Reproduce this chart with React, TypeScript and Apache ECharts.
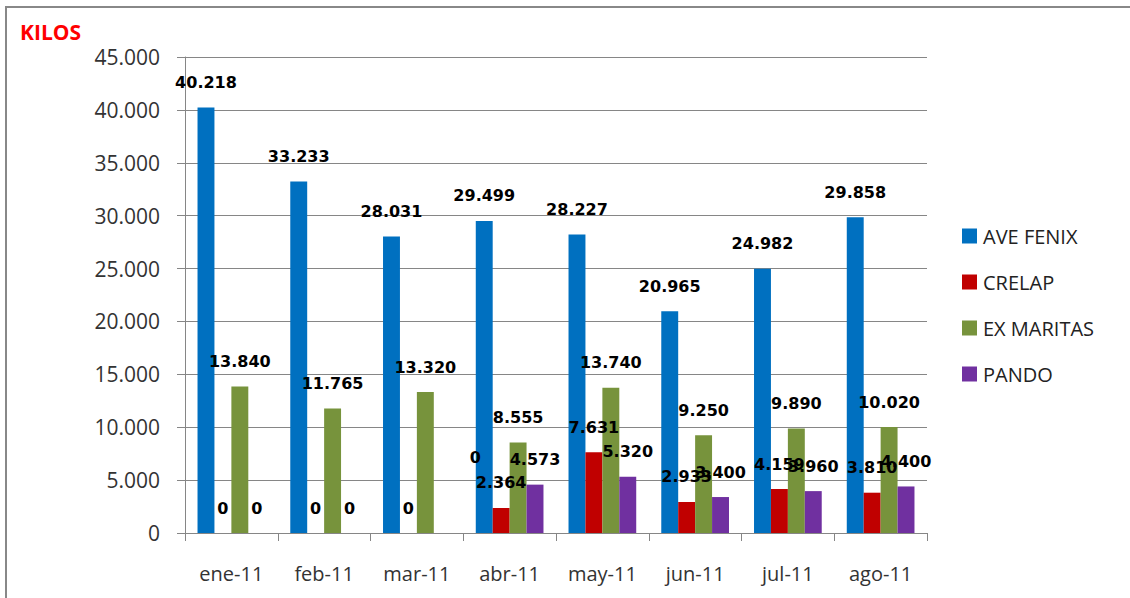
import React, { useEffect, useRef } from "react";
import * as echarts from "echarts";

const categories = ["ene-11", "feb-11", "mar-11", "abr-11", "may-11", "jun-11", "jul-11", "ago-11"];
const aveFenix = [40218, 33233, 28031, 29499, 28227, 20965, 24982, 29858];
const crelap = [0, 0, 0, 2364, 7631, 2933, 4159, 3810];
const exMaritas = [13840, 11765, 13320, 8555, 13740, 9250, 9890, 10020];
const pando = [0, 0, 0, 4573, 5320, 3400, 3960, 4400];
const seriesNames = ["AVE FENIX", "CRELAP", "EX MARITAS", "PANDO"];
const seriesColors = ["#0070C0", "#C00000", "#77933C", "#7030A0"];

// manually moved label (PANDO, mar-11)
const pandoLabelShift: Record<number, [number, number]> = { 2: [33, -51] };

const fmt = (v: number) => String(Math.round(v)).replace(/\B(?=(\d{3})+(?!\d))/g, ".");

export default function App() {
  const ref = useRef<HTMLDivElement>(null);
  useEffect(() => {
    document.body.style.margin = "0";
    const chart = echarts.init(ref.current!, undefined, { renderer: "svg" });
    const labelStyle = {
      show: true,
      position: "top" as const,
      distance: 17,
      fontFamily: "DejaVu Sans",
      fontWeight: "bold" as const,
      fontSize: 16,
      color: "#000",
      formatter: (p: any) => fmt(p.value),
    };
    const allData = [aveFenix, crelap, exMaritas, pando];
    const series = allData.map((vals, si) => ({
      name: seriesNames[si],
      type: "bar" as const,
      barGap: "0%",
      barCategoryGap: "27%",
      itemStyle: { color: seriesColors[si] },
      label: labelStyle,
      data: vals.map((v, i) =>
        si === 3 && pandoLabelShift[i]
          ? { value: v, label: { offset: pandoLabelShift[i] } }
          : v
      ),
    }));
    chart.setOption({
      animation: false,
      backgroundColor: "#fff",
      graphic: [
        {
          type: "rect",
          shape: { x: 6, y: 7, width: 1300, height: 800 },
          style: { fill: "none", stroke: "#888", lineWidth: 2 },
          silent: true,
        },
        {
          type: "text",
          left: 20,
          top: 21,
          style: {
            text: "KILOS",
            fill: "#FF0000",
            font: "bold 21px 'Open Sans'",
          },
        },
      ],
      legend: {
        orient: "vertical",
        left: 962,
        top: 224,
        padding: 0,
        itemWidth: 15,
        itemHeight: 15,
        itemGap: 22,
        icon: "rect",
        textStyle: {
          fontFamily: "Open Sans",
          fontSize: 20,
          lineHeight: 24,
          color: "#222",
          padding: [0, 0, 0, 1],
        },
        data: seriesNames,
      },
      grid: { left: 185, right: 203, top: 57, bottom: 65 },
      xAxis: {
        type: "category",
        data: categories,
        axisLine: { lineStyle: { color: "#868686", width: 1 } },
        axisTick: { show: true, length: 8, lineStyle: { color: "#868686" } },
        axisLabel: {
          interval: 0,
          fontFamily: "Open Sans",
          fontSize: 20,
          color: "#333",
          margin: 30,
        },
      },
      yAxis: {
        type: "value",
        min: 0,
        max: 45000,
        interval: 5000,
        axisLine: { show: true, lineStyle: { color: "#868686", width: 1 } },
        axisTick: { show: true, length: 8, lineStyle: { color: "#868686" } },
        splitLine: { lineStyle: { color: "#868686", width: 1 } },
        axisLabel: {
          fontFamily: "Open Sans",
          fontSize: 21,
          color: "#333",
          margin: 25,
          formatter: (v: number) => fmt(v),
        },
      },
      series,
    });
    return () => chart.dispose();
  }, []);
  return <div ref={ref} style={{ width: 1130, height: 598 }} />;
}
